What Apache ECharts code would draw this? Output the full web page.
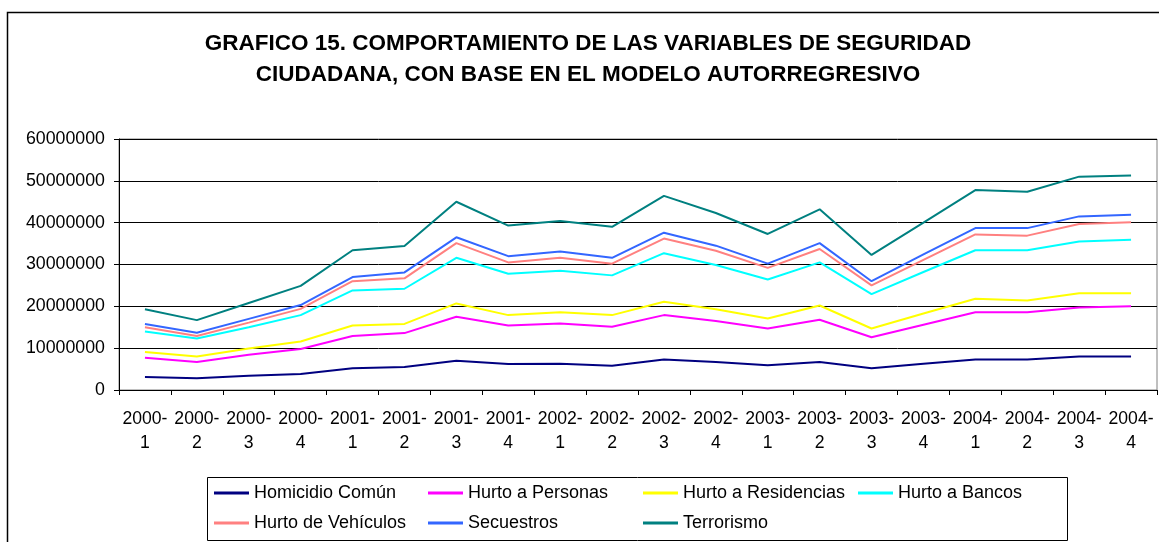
<!DOCTYPE html>
<html>
<head>
<meta charset="utf-8">
<script src="https://cdn.jsdelivr.net/npm/echarts@6/dist/echarts.min.js"></script>
<style>
	html, body { margin: 0; padding: 0; background: #fff; }
	#chart { width: 1159px; height: 542px; }
</style>
</head>
<body>
<div id="chart"></div>
<script>
// categories: year-quarter
var categories = [
	'2000-\n1', '2000-\n2', '2000-\n3', '2000-\n4',
	'2001-\n1', '2001-\n2', '2001-\n3', '2001-\n4',
	'2002-\n1', '2002-\n2', '2002-\n3', '2002-\n4',
	'2003-\n1', '2003-\n2', '2003-\n3', '2003-\n4',
	'2004-\n1', '2004-\n2', '2004-\n3', '2004-\n4'
];

var homicidio = [3100000, 2800000, 3400000, 3800000, 5200000, 5500000, 7000000, 6200000, 6300000, 5800000, 7300000, 6700000, 5900000, 6700000, 5200000, 6300000, 7300000, 7300000, 8000000, 8000000];
var personas = [7700000, 6700000, 8400000, 9800000, 12900000, 13600000, 17500000, 15400000, 15900000, 15100000, 17900000, 16500000, 14700000, 16800000, 12600000, 15600000, 18600000, 18600000, 19700000, 20000000];
var residencias = [9100000, 8000000, 9900000, 11600000, 15400000, 15800000, 20700000, 17900000, 18600000, 17900000, 21100000, 19300000, 17100000, 20200000, 14700000, 18300000, 21800000, 21400000, 23100000, 23100000];
var bancos = [14000000, 12300000, 15000000, 17900000, 23800000, 24200000, 31600000, 27800000, 28500000, 27400000, 32700000, 29900000, 26400000, 30500000, 22900000, 28200000, 33400000, 33400000, 35500000, 35900000];
var vehiculos = [15000000, 12900000, 16100000, 19400000, 26000000, 26700000, 35100000, 30500000, 31600000, 30200000, 36200000, 33300000, 29200000, 33700000, 25000000, 31100000, 37200000, 36900000, 39700000, 40100000];
var secuestros = [15800000, 13700000, 17000000, 20300000, 27000000, 28100000, 36500000, 32000000, 33100000, 31600000, 37600000, 34500000, 30200000, 35100000, 26000000, 32400000, 38700000, 38700000, 41500000, 41900000];
var terrorismo = [19300000, 16700000, 20800000, 24900000, 33400000, 34400000, 45000000, 39300000, 40400000, 39000000, 46400000, 42300000, 37300000, 43200000, 32300000, 40000000, 47800000, 47400000, 51000000, 51300000];

var seriesNames = ['Homicidio Común', 'Hurto a Personas', 'Hurto a Residencias', 'Hurto a Bancos', 'Hurto de Vehículos', 'Secuestros', 'Terrorismo'];
var seriesData = [homicidio, personas, residencias, bancos, vehiculos, secuestros, terrorismo];
var seriesColors = ['#000080', '#ff00ff', '#ffff00', '#00ffff', '#ff8080', '#3366ff', '#008080'];

var font = '"Liberation Sans", Arial, sans-serif';

var chart = echarts.init(document.getElementById('chart'));

// legend columns, like the excel layout
function legendCol(left, names) {
	return {
		orient: 'vertical',
		left: left,
		top: 483,
		padding: 0,
		itemGap: 10,
		itemWidth: 35,
		itemHeight: 3,
		icon: 'rect',
		selectedMode: false,
		textStyle: { color: '#000', fontSize: 18, fontFamily: font, lineHeight: 20 },
		data: names
	};
}

chart.setOption({
	animation: false,
	backgroundColor: '#fff',
	title: {
		text: 'GRAFICO 15. COMPORTAMIENTO DE LAS VARIABLES DE SEGURIDAD\nCIUDADANA, CON BASE EN EL MODELO AUTORREGRESIVO',
		left: 588,
		top: 28,
		padding: 0,
		textAlign: 'center',
		textStyle: {
			color: '#000',
			fontSize: 22.5,
			fontWeight: 'bold',
			fontFamily: font,
			lineHeight: 31.5
		}
	},
	graphic: [
		{
			type: 'rect',
			shape: { x: 7.5, y: 12.5, width: 1200, height: 600 },
			style: { fill: 'none', stroke: '#000', lineWidth: 1.5 },
			silent: true
		},
		{
			type: 'rect',
			shape: { x: 207.5, y: 477.5, width: 860, height: 63 },
			style: { fill: 'none', stroke: '#000', lineWidth: 1 },
			silent: true
		}
	],
	legend: [
		legendCol(214, [seriesNames[0], seriesNames[4]]),
		legendCol(428, [seriesNames[1], seriesNames[5]]),
		legendCol(643, [seriesNames[2], seriesNames[6]]),
		legendCol(858, [seriesNames[3]])
	],
	grid: {
		left: 119,
		right: 2,
		top: 139,
		bottom: 152,
		show: true,
		borderColor: '#808080',
		borderWidth: 1
	},
	xAxis: {
		type: 'category',
		data: categories,
		boundaryGap: true,
		axisLine: { lineStyle: { color: '#000', width: 1 } },
		axisTick: { show: true, length: 5, lineStyle: { color: '#000' } },
		axisLabel: {
			interval: 0,
			color: '#000',
			fontSize: 17.6,
			fontFamily: font,
			lineHeight: 24,
			margin: 17
		}
	},
	yAxis: {
		type: 'value',
		min: 0,
		max: 60000000,
		interval: 10000000,
		axisLine: { show: true, lineStyle: { color: '#000', width: 1 } },
		axisTick: { show: true, length: 5, lineStyle: { color: '#000' } },
		splitLine: { lineStyle: { color: '#000', width: 1 } },
		axisLabel: {
			color: '#000',
			fontSize: 17.8,
			fontFamily: font,
			margin: 14,
			formatter: function(v) { return String(v); }
		}
	},
	series: seriesNames.map(function(name, i) {
		return {
			name: name,
			type: 'line',
			data: seriesData[i],
			showSymbol: false,
			symbol: 'none',
			color: seriesColors[i],
			lineStyle: { width: 2, color: seriesColors[i] }
		};
	})
});
</script>
</body>
</html>
